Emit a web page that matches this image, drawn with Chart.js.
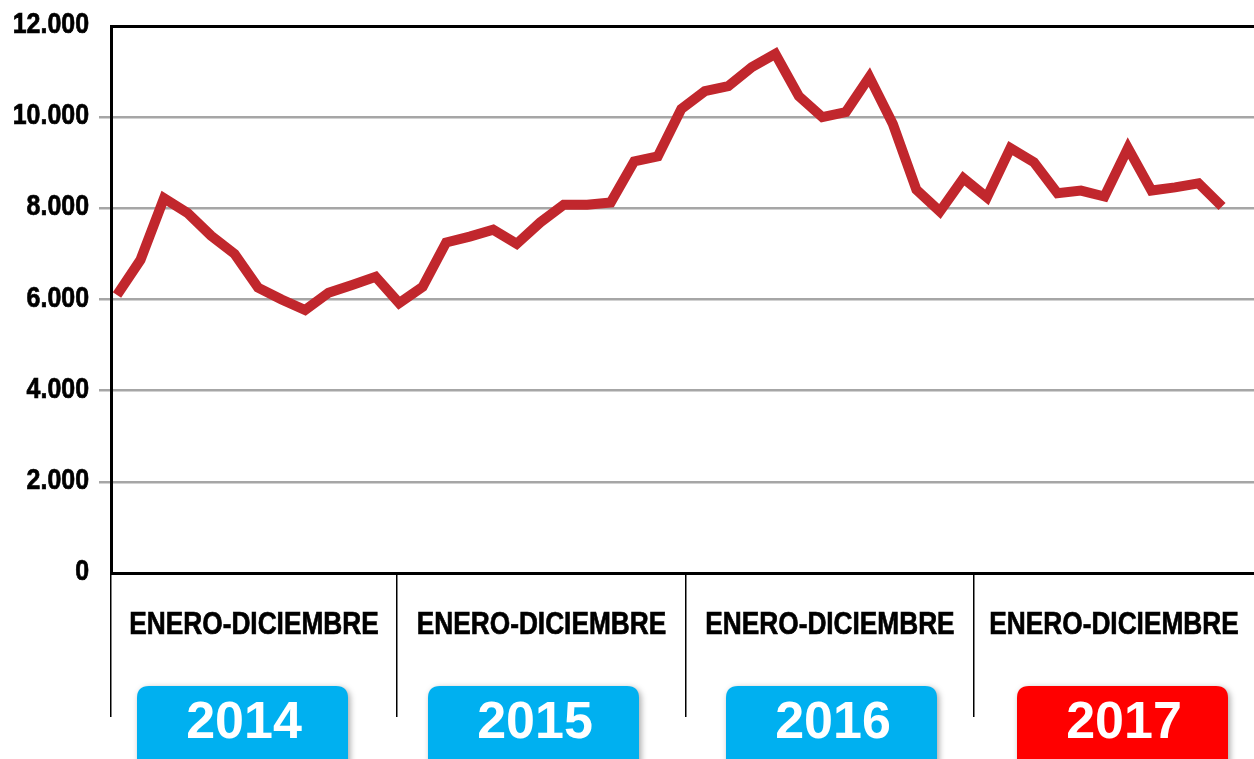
<!DOCTYPE html>
<html>
<head>
<meta charset="utf-8">
<script src="https://cdn.jsdelivr.net/npm/chart.js@4.4.0/dist/chart.umd.min.js"></script>
<style>
  html, body { margin: 0; padding: 0; background: #fff; }
  #wrap { width: 1254px; height: 759px; }
</style>
</head>
<body>
<div id="wrap"><canvas id="lineGraph"></canvas></div>
<script>
// data, one value per month
const years = ['2014', '2015', '2016', '2017'];
const months = ['Ene', 'Feb', 'Mar', 'Abr', 'May', 'Jun', 'Jul', 'Ago', 'Sep', 'Oct', 'Nov', 'Dic'];
const periodLabel = 'ENERO-DICIEMBRE';
const v2014 = [6100, 6870, 8220, 7900, 7400, 7000, 6260, 6000, 5770, 6150, 6320, 6500];
const v2015 = [5920, 6280, 7250, 7380, 7530, 7220, 7690, 8080, 8080, 8130, 9030, 9140];
const v2016 = [10180, 10570, 10680, 11100, 11390, 10460, 10000, 10110, 10880, 9850, 8410, 7930];
const v2017 = [8660, 8240, 9320, 9010, 8330, 8390, 8260, 9320, 8390, 8460, 8550, 8040];
const yTicks = [0, 2000, 4000, 6000, 8000, 10000, 12000];

const values = [...v2014, ...v2015, ...v2016, ...v2017];
const labels = years.flatMap(y => months.map(m => m + ' ' + y));

// where the year columns start on the x scale (the source image is not aligned to the months)
const xMin = -0.255, xMax = 48.36;
const yearEdges = [xMin, 11.91, 24.2, 36.45];
const boxLefts = [137, 428, 726, 1017];
const boxColors = ['#00B0F0', '#00B0F0', '#00B0F0', '#FF0000'];

const sans = '"Liberation Sans", Arial, sans-serif';

function fmt(v) {
    return String(v).replace(/\B(?=(\d{3})+(?!\d))/g, '.');
}

function roundRect(ctx, x, y, w, h, r) {
    ctx.beginPath();
    ctx.moveTo(x + r, y);
    ctx.lineTo(x + w - r, y);
    ctx.quadraticCurveTo(x + w, y, x + w, y + r);
    ctx.lineTo(x + w, y + h - r);
    ctx.quadraticCurveTo(x + w, y + h, x + w - r, y + h);
    ctx.lineTo(x + r, y + h);
    ctx.quadraticCurveTo(x, y + h, x, y + h - r);
    ctx.lineTo(x, y + r);
    ctx.quadraticCurveTo(x, y, x + r, y);
    ctx.closePath();
}

// text in the picture is a narrow bold face, so squeeze the regular one
function narrowText(ctx, text, x, y, size, squeeze, align) {
    ctx.save();
    ctx.font = 'bold ' + size + 'px ' + sans;
    ctx.textAlign = align;
    ctx.textBaseline = 'middle';
    ctx.translate(x, y);
    ctx.scale(squeeze, 1);
    ctx.fillText(text, 0, 0);
    ctx.lineWidth = 0.7;
    ctx.strokeStyle = ctx.fillStyle;
    ctx.strokeText(text, 0, 0);
    ctx.restore();
}

const yearBoxes = {
    id: 'yearBoxes',
    afterDraw(chart) {
        const ctx = chart.ctx;
        const xs = chart.scales.x;
        const ys = chart.scales.y;
        const edges = [...yearEdges, xMax];
        ctx.save();
        ctx.fillStyle = '#000';
        yTicks.forEach(v => {
            narrowText(ctx, fmt(v), 89, ys.getPixelForValue(v) - 1, 29, 0.86, 'right');
        });

        years.forEach((year, i) => {
            const cx = (xs.getPixelForValue(edges[i]) + xs.getPixelForValue(edges[i + 1])) / 2;

            ctx.fillStyle = '#000';
            narrowText(ctx, periodLabel, cx, 625, 32, 0.82, 'center');

            // year badge
            ctx.save();
            ctx.shadowColor = 'rgba(0,0,0,0.35)';
            ctx.shadowBlur = 6;
            ctx.shadowOffsetX = 2;
            ctx.shadowOffsetY = 2;
            ctx.fillStyle = boxColors[i];
            roundRect(ctx, boxLefts[i], 686, 211, 90, 12);
            ctx.fill();
            ctx.restore();

            ctx.font = 'bold 52px ' + sans;
            ctx.fillStyle = '#fff';
            ctx.textAlign = 'center';
            ctx.textBaseline = 'middle';
            ctx.fillText(year, boxLefts[i] + 107, 724);
        });
        ctx.restore();
    }
};

const ctx = document.getElementById('lineGraph').getContext('2d');
new Chart(ctx, {
    type: 'line',
    data: {
        labels: labels,
        datasets: [{
            label: 'Total',
            data: values.map((v, i) => ({ x: i, y: v })),
            borderColor: '#C1272D',
            borderWidth: 10,
            borderJoinStyle: 'miter',
            pointRadius: 0,
            tension: 0,
            fill: false
        }]
    },
    options: {
        responsive: true,
        maintainAspectRatio: false,
        animation: false,
        layout: { padding: { top: 26, right: 0, left: 0, bottom: 0 } },
        plugins: {
            legend: { display: false },
            tooltip: { enabled: false }
        },
        scales: {
            x: {
                type: 'linear',
                min: xMin,
                max: xMax,
                afterBuildTicks: scale => { scale.ticks = yearEdges.map(v => ({ value: v })); },
                afterFit: scale => { scale.height = 186; },
                ticks: { display: false },
                grid: {
                    drawOnChartArea: false,
                    drawTicks: true,
                    tickLength: 144,
                    color: '#000',
                    lineWidth: 1.5
                },
                border: { display: true, color: '#000', width: 3 }
            },
            y: {
                min: 0,
                max: 12000,
                afterBuildTicks: scale => { scale.ticks = yTicks.map(v => ({ value: v })); },
                afterFit: scale => { scale.width = 111; },
                ticks: { display: false },
                grid: {
                    color: c => (c.tick && c.tick.value === 12000) ? '#000' : '#A6A6A6',
                    tickColor: c => (c.tick && (c.tick.value === 12000 || c.tick.value === 0)) ? 'rgba(0,0,0,0)' : '#A6A6A6',
                    lineWidth: c => (c.tick && c.tick.value === 12000) ? 3 : 2.5,
                    tickLength: 12
                },
                border: { display: true, color: '#000', width: 3 }
            }
        }
    },
    plugins: [yearBoxes]
});
</script>
</body>
</html>
